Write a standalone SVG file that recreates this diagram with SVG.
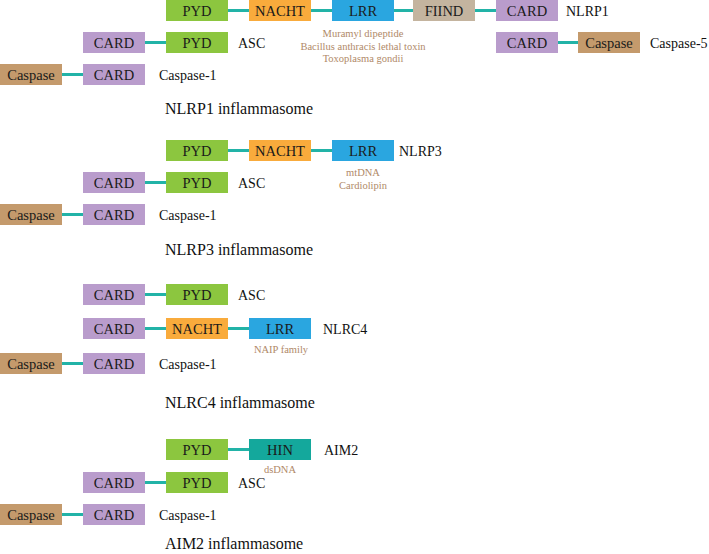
<svg xmlns="http://www.w3.org/2000/svg" width="709" height="554" viewBox="0 0 709 554" font-family="'Liberation Serif','DejaVu Serif',serif">
<style>
text{font-family:"Liberation Serif","DejaVu Serif",serif;}
.b{font-size:14.5px;fill:#1a1a1a;text-anchor:middle;}
.l{font-size:14px;fill:#111;}
.t{font-size:16px;fill:#111;}
.s{font-size:10.5px;fill:#b08968;text-anchor:middle;}
.pyd{fill:#8cc63f;}
.nacht{fill:#f9ab3c;}
.lrr{fill:#2aa6e0;}
.fiind{fill:#c4b49f;}
.card{fill:#b99ccc;}
.casp{fill:#c49a6c;}
.hin{fill:#14a89c;}
.c line{stroke:#22b3a7;stroke-width:3;}
</style>
<rect width="709" height="554" fill="#fff"/>
<g class="c" id="connectors">
<line x1="228" y1="10.5" x2="249" y2="10.5"/>
<line x1="311" y1="10.5" x2="332" y2="10.5"/>
<line x1="394" y1="10.5" x2="413" y2="10.5"/>
<line x1="475" y1="10.5" x2="496" y2="10.5"/>
<line x1="145" y1="42.5" x2="166" y2="42.5"/>
<line x1="558" y1="42.5" x2="578" y2="42.5"/>
<line x1="62" y1="74.5" x2="83" y2="74.5"/>
<line x1="228" y1="150.5" x2="249" y2="150.5"/>
<line x1="311" y1="150.5" x2="332" y2="150.5"/>
<line x1="145" y1="182.5" x2="166" y2="182.5"/>
<line x1="62" y1="214.5" x2="83" y2="214.5"/>
<line x1="145" y1="294.5" x2="166" y2="294.5"/>
<line x1="145" y1="328.5" x2="166" y2="328.5"/>
<line x1="228" y1="328.5" x2="249" y2="328.5"/>
<line x1="62" y1="363.5" x2="83" y2="363.5"/>
<line x1="228" y1="449.5" x2="249" y2="449.5"/>
<line x1="145" y1="482.5" x2="166" y2="482.5"/>
<line x1="62" y1="514.5" x2="83" y2="514.5"/>
</g>
<!-- NLRP1 inflammasome -->
<g id="nlrp1-pyd"><rect class="pyd" x="166" y="0" width="62" height="21"/><text class="b" x="197" y="16">PYD</text></g>
<g id="nlrp1-nacht"><rect class="nacht" x="249" y="0" width="62" height="21"/><text class="b" x="280" y="16">NACHT</text></g>
<g id="nlrp1-lrr"><rect class="lrr" x="332" y="0" width="62" height="21"/><text class="b" x="363" y="16">LRR</text></g>
<g id="nlrp1-fiind"><rect class="fiind" x="413" y="0" width="62" height="21"/><text class="b" x="444" y="16">FIIND</text></g>
<g id="nlrp1-card"><rect class="card" x="496" y="0" width="62" height="21"/><text class="b" x="527" y="16">CARD</text></g>
<text class="l" x="566" y="16">NLRP1</text>
<g id="nlrp1-ligands"><text class="s" x="363" y="37">Muramyl dipeptide</text><text class="s" x="363" y="49.5">Bacillus anthracis lethal toxin</text><text class="s" x="363" y="62">Toxoplasma gondii</text></g>
<g id="s1-asc-card"><rect class="card" x="83" y="32" width="62" height="21"/><text class="b" x="114" y="48">CARD</text></g>
<g id="s1-asc-pyd"><rect class="pyd" x="166" y="32" width="62" height="21"/><text class="b" x="197" y="48">PYD</text></g>
<text class="l" x="238" y="48">ASC</text>
<g id="casp5-card"><rect class="card" x="496" y="32" width="62" height="21"/><text class="b" x="527" y="48">CARD</text></g>
<g id="casp5-casp"><rect class="casp" x="578" y="32" width="62" height="21"/><text class="b" x="609" y="48">Caspase</text></g>
<text class="l" x="650" y="48">Caspase-5</text>
<g id="s1-casp1-casp"><rect class="casp" x="0" y="64" width="62" height="21"/><text class="b" x="31" y="80">Caspase</text></g>
<g id="s1-casp1-card"><rect class="card" x="83" y="64" width="62" height="21"/><text class="b" x="114" y="80">CARD</text></g>
<text class="l" x="159" y="80">Caspase-1</text>
<text class="t" x="165" y="114">NLRP1 inflammasome</text>
<!-- NLRP3 inflammasome -->
<g id="nlrp3-pyd"><rect class="pyd" x="166" y="140" width="62" height="21"/><text class="b" x="197" y="156">PYD</text></g>
<g id="nlrp3-nacht"><rect class="nacht" x="249" y="140" width="62" height="21"/><text class="b" x="280" y="156">NACHT</text></g>
<g id="nlrp3-lrr"><rect class="lrr" x="332" y="140" width="62" height="21"/><text class="b" x="363" y="156">LRR</text></g>
<text class="l" x="399" y="156">NLRP3</text>
<g id="nlrp3-ligands"><text class="s" x="363" y="176">mtDNA</text><text class="s" x="363" y="189">Cardiolipin</text></g>
<g id="s2-asc-card"><rect class="card" x="83" y="172" width="62" height="21"/><text class="b" x="114" y="188">CARD</text></g>
<g id="s2-asc-pyd"><rect class="pyd" x="166" y="172" width="62" height="21"/><text class="b" x="197" y="188">PYD</text></g>
<text class="l" x="238" y="188">ASC</text>
<g id="s2-casp1-casp"><rect class="casp" x="0" y="204" width="62" height="21"/><text class="b" x="31" y="220">Caspase</text></g>
<g id="s2-casp1-card"><rect class="card" x="83" y="204" width="62" height="21"/><text class="b" x="114" y="220">CARD</text></g>
<text class="l" x="159" y="220">Caspase-1</text>
<text class="t" x="165" y="255">NLRP3 inflammasome</text>
<!-- NLRC4 inflammasome -->
<g id="s3-asc-card"><rect class="card" x="83" y="284" width="62" height="21"/><text class="b" x="114" y="300">CARD</text></g>
<g id="s3-asc-pyd"><rect class="pyd" x="166" y="284" width="62" height="21"/><text class="b" x="197" y="300">PYD</text></g>
<text class="l" x="238" y="300">ASC</text>
<g id="nlrc4-card"><rect class="card" x="83" y="318" width="62" height="21"/><text class="b" x="114" y="334">CARD</text></g>
<g id="nlrc4-nacht"><rect class="nacht" x="166" y="318" width="62" height="21"/><text class="b" x="197" y="334">NACHT</text></g>
<g id="nlrc4-lrr"><rect class="lrr" x="249" y="318" width="62" height="21"/><text class="b" x="280" y="334">LRR</text></g>
<text class="l" x="323" y="334">NLRC4</text>
<g id="nlrc4-ligands"><text class="s" x="281" y="353">NAIP family</text></g>
<g id="s3-casp1-casp"><rect class="casp" x="0" y="353" width="62" height="21"/><text class="b" x="31" y="369">Caspase</text></g>
<g id="s3-casp1-card"><rect class="card" x="83" y="353" width="62" height="21"/><text class="b" x="114" y="369">CARD</text></g>
<text class="l" x="159" y="369">Caspase-1</text>
<text class="t" x="165" y="408">NLRC4 inflammasome</text>
<!-- AIM2 inflammasome -->
<g id="aim2-pyd"><rect class="pyd" x="166" y="439" width="62" height="21"/><text class="b" x="197" y="455">PYD</text></g>
<g id="aim2-hin"><rect class="hin" x="249" y="439" width="62" height="21"/><text class="b" x="280" y="455">HIN</text></g>
<text class="l" x="324" y="455">AIM2</text>
<g id="aim2-ligands"><text class="s" x="280" y="473">dsDNA</text></g>
<g id="s4-asc-card"><rect class="card" x="83" y="472" width="62" height="21"/><text class="b" x="114" y="488">CARD</text></g>
<g id="s4-asc-pyd"><rect class="pyd" x="166" y="472" width="62" height="21"/><text class="b" x="197" y="488">PYD</text></g>
<text class="l" x="238" y="488">ASC</text>
<g id="s4-casp1-casp"><rect class="casp" x="0" y="504" width="62" height="21"/><text class="b" x="31" y="520">Caspase</text></g>
<g id="s4-casp1-card"><rect class="card" x="83" y="504" width="62" height="21"/><text class="b" x="114" y="520">CARD</text></g>
<text class="l" x="159" y="520">Caspase-1</text>
<text class="t" x="165" y="549">AIM2 inflammasome</text>
</svg>
